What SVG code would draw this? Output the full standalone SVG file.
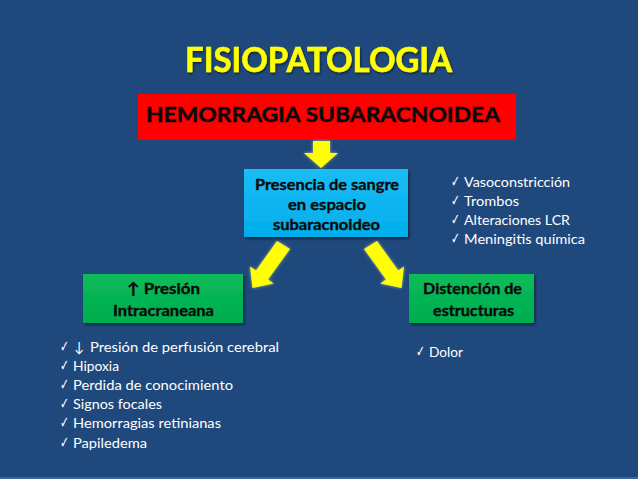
<svg xmlns="http://www.w3.org/2000/svg" width="638" height="479" viewBox="0 0 638 479">
<defs>
<style>
.t{font-family:Lato,'Liberation Sans',sans-serif}
.b{font-weight:bold}
.bx{font-family:Lato,'Liberation Sans',sans-serif;font-weight:bold;font-size:15.5px;fill:#0a0a0a;text-anchor:start;stroke:#0a0a0a;stroke-width:0.35px}
.li{font-family:Lato,'Liberation Sans',sans-serif;font-size:14px;fill:#ffffff}
.ck{font-family:'DejaVu Sans',sans-serif;font-size:16px;fill:#ffffff}
.arr{fill:#ffff00;filter:url(#glow)}
</style>
<filter id="sh" x="-10%" y="-10%" width="125%" height="130%">
<feDropShadow dx="1.5" dy="2" stdDeviation="1.5" flood-color="#000" flood-opacity="0.45"/>
</filter>
<filter id="tsh" x="-5%" y="-20%" width="110%" height="150%">
<feDropShadow dx="1" dy="1.5" stdDeviation="0.8" flood-color="#000" flood-opacity="0.55"/>
</filter>
<filter id="glow" x="-30%" y="-30%" width="160%" height="160%">
<feGaussianBlur in="SourceAlpha" stdDeviation="1.5" result="b"/>
<feFlood flood-color="#ffff99" flood-opacity="0.6"/>
<feComposite in2="b" operator="in" result="g"/>
<feMerge><feMergeNode in="g"/><feMergeNode in="SourceGraphic"/></feMerge>
</filter>
<linearGradient id="gb" x1="0" y1="0" x2="0" y2="1">
<stop offset="0" stop-color="#1cbcf5"/><stop offset="1" stop-color="#00aeea"/>
</linearGradient>
<linearGradient id="gg" x1="0" y1="0" x2="0" y2="1">
<stop offset="0" stop-color="#0abb5a"/><stop offset="1" stop-color="#00ad4e"/>
</linearGradient>
</defs>
<rect x="0" y="0" width="638" height="479" fill="#1f497d"/>
<rect x="0" y="477" width="638" height="2" fill="#3a65a0"/>

<g id="title">
<text class="t b" x="185" y="72" font-size="35" fill="#ffff00" stroke="#ffff00" stroke-width="0.6" filter="url(#tsh)" textLength="267" lengthAdjust="spacingAndGlyphs">FISIOPATOLOGIA</text>
</g>

<g id="hemorragia">
<rect x="138" y="94" width="378" height="46" fill="#ff0000"/>
<text class="t b" x="146" y="122" font-size="20" fill="#0a0a0a" stroke="#0a0a0a" stroke-width="0.4" textLength="354" lengthAdjust="spacingAndGlyphs">HEMORRAGIA SUBARACNOIDEA</text>
</g>

<g id="connectors">
<polygon class="arr" points="313,141 330,141 330,153 338,153 321,168 304,153 313,153"/>
<polygon class="arr" points="277,241 256,270.6 250,266.5 252.5,288 273.7,283.5 268,279.4 290,249"/>
<polygon class="arr" points="377,241 398.3,270.6 404,266.5 401.5,288 380.3,283.5 386,279.4 364,249"/>
</g>

<g id="presencia">
<rect x="244" y="169" width="164" height="68" fill="url(#gb)" filter="url(#sh)"/>
<text class="bx" x="255" y="190" textLength="144" lengthAdjust="spacingAndGlyphs">Presencia de sangre</text>
<text class="bx" x="288" y="210" textLength="78" lengthAdjust="spacingAndGlyphs">en espacio</text>
<text class="bx" x="273" y="230" textLength="107" lengthAdjust="spacingAndGlyphs">subaracnoideo</text>
</g>

<g id="presion">
<rect x="83" y="274" width="160" height="49" fill="url(#gg)" filter="url(#sh)"/>
<text class="bx" x="127" y="294" textLength="73" lengthAdjust="spacingAndGlyphs">↑ Presión</text>
<text class="bx" x="113" y="316" textLength="101" lengthAdjust="spacingAndGlyphs">Intracraneana</text>
</g>

<g id="distencion">
<rect x="409" y="274" width="125" height="49" fill="url(#gg)" filter="url(#sh)"/>
<text class="bx" x="423" y="294" textLength="99" lengthAdjust="spacingAndGlyphs">Distención de</text>
<text class="bx" x="433" y="316" textLength="81" lengthAdjust="spacingAndGlyphs">estructuras</text>
</g>

<g id="lista-derecha">
<text class="ck" x="451" y="187" textLength="9" lengthAdjust="spacingAndGlyphs">✓</text>
<text class="li" x="464" y="187" textLength="106" lengthAdjust="spacingAndGlyphs">Vasoconstricción</text>
<text class="ck" x="451" y="206" textLength="9" lengthAdjust="spacingAndGlyphs">✓</text>
<text class="li" x="464" y="206" textLength="55" lengthAdjust="spacingAndGlyphs">Trombos</text>
<text class="ck" x="451" y="225" textLength="9" lengthAdjust="spacingAndGlyphs">✓</text>
<text class="li" x="464" y="225" textLength="106" lengthAdjust="spacingAndGlyphs">Alteraciones LCR</text>
<text class="ck" x="451" y="244" textLength="9" lengthAdjust="spacingAndGlyphs">✓</text>
<text class="li" x="464" y="244" textLength="121" lengthAdjust="spacingAndGlyphs">Meningitis química</text>
</g>

<g id="lista-izquierda">
<text class="ck" x="60" y="352" textLength="9" lengthAdjust="spacingAndGlyphs">✓</text>
<text class="li" x="74" y="352" font-size="16" textLength="10" lengthAdjust="spacingAndGlyphs">↓</text>
<text class="li" x="90" y="352" textLength="189" lengthAdjust="spacingAndGlyphs">Presión de perfusión cerebral</text>
<text class="ck" x="60" y="371" textLength="9" lengthAdjust="spacingAndGlyphs">✓</text>
<text class="li" x="73" y="371" textLength="46" lengthAdjust="spacingAndGlyphs">Hipoxia</text>
<text class="ck" x="60" y="390" textLength="9" lengthAdjust="spacingAndGlyphs">✓</text>
<text class="li" x="73" y="390" textLength="160" lengthAdjust="spacingAndGlyphs">Perdida de conocimiento</text>
<text class="ck" x="60" y="409" textLength="9" lengthAdjust="spacingAndGlyphs">✓</text>
<text class="li" x="73" y="409" textLength="89" lengthAdjust="spacingAndGlyphs">Signos focales</text>
<text class="ck" x="60" y="428" textLength="9" lengthAdjust="spacingAndGlyphs">✓</text>
<text class="li" x="73" y="428" textLength="148" lengthAdjust="spacingAndGlyphs">Hemorragias retinianas</text>
<text class="ck" x="60" y="448" textLength="9" lengthAdjust="spacingAndGlyphs">✓</text>
<text class="li" x="73" y="448" textLength="74" lengthAdjust="spacingAndGlyphs">Papiledema</text>
</g>

<g id="lista-dolor">
<text class="ck" x="416" y="357" textLength="9" lengthAdjust="spacingAndGlyphs">✓</text>
<text class="li" x="429" y="357" textLength="34" lengthAdjust="spacingAndGlyphs">Dolor</text>
</g>
</svg>
